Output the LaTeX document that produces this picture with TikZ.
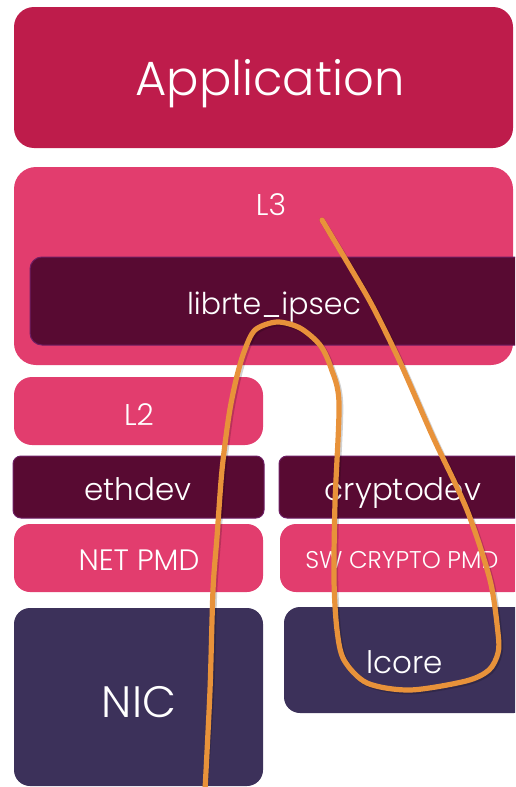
\documentclass[tikz,border=0pt]{standalone}
\usepackage{fontspec}
\setmainfont{Poppins}[UprightFont={* Light}]
\definecolor{appred}{HTML}{BE1C4B}
\definecolor{layerpink}{HTML}{E23D6E}
\definecolor{libdark}{HTML}{580A32}
\definecolor{libedge}{HTML}{6E1E64}
\definecolor{hwnavy}{HTML}{3C315A}
\definecolor{pathorange}{HTML}{E8923A}
\begin{document}
\begin{tikzpicture}[x=1pt,y=-1pt,
  blk/.style={rectangle, inner sep=0pt, outer sep=0pt},
  pinkbox/.style={blk, fill=layerpink},
  libbox/.style={blk, fill=libdark, draw=libedge, line width=1pt},
  hwbox/.style={blk, fill=hwnavy},
  lbl/.style={text=white, anchor=base, inner sep=0pt}]
\useasboundingbox (0,0) rectangle (515,787);
\clip (0,0) rectangle (515,787);

% layer boxes
\node[blk, fill=appred, rounded corners=20pt, minimum width=499pt, minimum height=141pt] (app) at (263.5,77.5) {};
\node[pinkbox, rounded corners=22pt, minimum width=499pt, minimum height=198pt] (l3) at (263.5,266) {};
\node[libbox, rounded corners=12pt, minimum width=500pt, minimum height=88pt] (ipsec) at (280,301) {};
\node[pinkbox, rounded corners=18pt, minimum width=249pt, minimum height=68pt] (l2) at (138.5,411) {};
\node[libbox, rounded corners=8pt, minimum width=251pt, minimum height=62pt] (eth) at (138.5,487) {};
\node[libbox, rounded corners=8pt, minimum width=251pt, minimum height=62pt] (crypto) at (404.5,487) {};
\node[pinkbox, rounded corners=16pt, minimum width=249pt, minimum height=68pt] (netpmd) at (138.5,558) {};
\node[pinkbox, rounded corners=16pt, minimum width=250pt, minimum height=68pt] (swpmd) at (405,558) {};
\node[hwbox, rounded corners=16pt, minimum width=249pt, minimum height=178pt] (nic) at (138.5,697) {};
\node[hwbox, rounded corners=16pt, minimum width=246pt, minimum height=106pt] (lcore) at (407,660) {};

% labels
\node[lbl, font=\fontsize{48}{48}\selectfont] (appT) at (270,95) {Application};
\node[lbl, font=\fontsize{30}{30}\selectfont] (l3T) at (271,215) {L3};
\node[lbl, font=\fontsize{30}{30}\selectfont] (ipsecT) at (274,314) {librte\_ipsec};
\node[lbl, font=\fontsize{30}{30}\selectfont] (l2T) at (139,425) {L2};
\node[lbl, font=\fontsize{31}{31}\selectfont] (ethT) at (138,500) {ethdev};
\node[lbl, font=\fontsize{31}{31}\selectfont] (cryptoT) at (403,500) {cryptodev};
\node[lbl, font=\fontsize{29.5}{29.5}\selectfont] (netT) at (139,570) {NET PMD};
\node[lbl, font=\fontsize{24.2}{24.2}\selectfont] (swT) at (402,568) {SW CRYPTO PMD};
\node[lbl, font=\fontsize{44}{44}\selectfont] (nicT) at (139,717) {NIC};
\node[lbl, font=\fontsize{31}{31}\selectfont] (lcoreT) at (405,673) {lcore};

% packet path: from L3 down through the crypto device, back up, and out to the NIC
\coordinate (pstart) at (322,220);
\coordinate (pend) at (205,790);
\def\pktpath{(pstart) (350,267) (373,307) (400,362) (433,437) (467,510) (490,580)
  (498,633) (498,653) (489,670) (466,681) (410,690) (367,683) (344,660) (337,630)
  (334,580) (335,503) (339,403) (331,368) (320,345) (300,328) (277,322) (255,330)
  (244,352) (236,380) (229,415) (222,470) (217,537) (213,590) (210,690) (pend)}
\draw[black, opacity=0.18, line width=5.5pt, line cap=round, shift={(1.5,1.5)}]
  plot[smooth, tension=0.5] coordinates {\pktpath};
\draw[pathorange, line width=5.2pt, line cap=round]
  plot[smooth, tension=0.5] coordinates {\pktpath};
\end{tikzpicture}
\end{document}
